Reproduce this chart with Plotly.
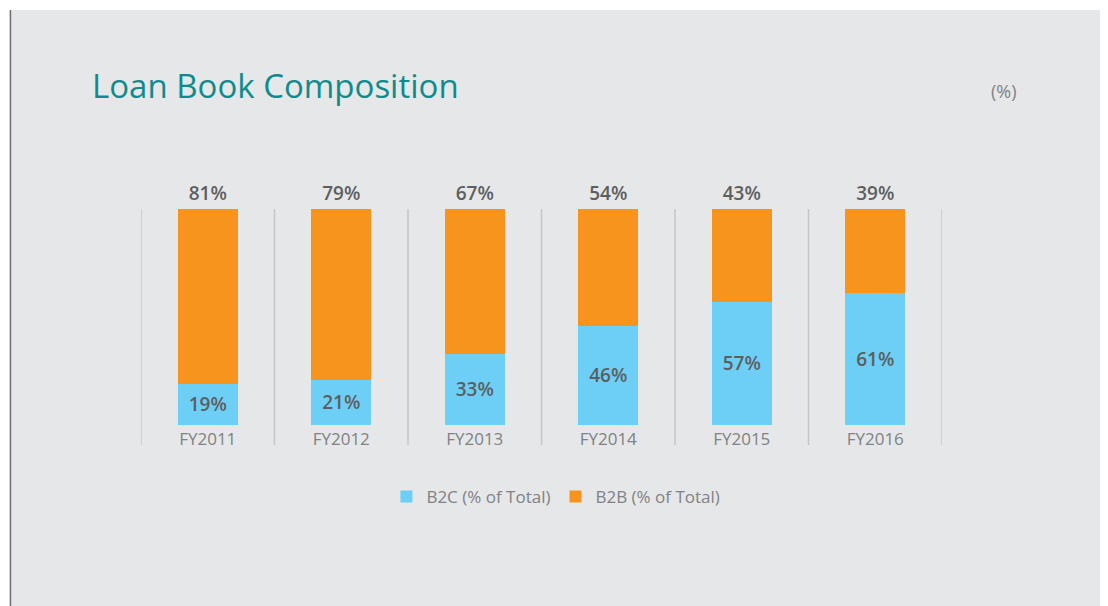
import plotly.graph_objects as go

years = ["FY2011", "FY2012", "FY2013", "FY2014", "FY2015", "FY2016"]
b2c = [19, 21, 33, 46, 57, 61]
b2b = [81, 79, 67, 54, 43, 39]

BG = "#e6e7e8"
BLUE = "#6dcff6"
ORANGE = "#f7941d"
DARK = "#5d5e60"
MID = "#808285"
FONT = "Open Sans"

# page body has an 8px margin, so the figure is shifted by that much
W, H = 1100, 598

fig = go.Figure()

fig.add_trace(go.Bar(
    x=years, y=b2c, name="B2C (% of Total)",
    marker=dict(color=BLUE, line=dict(width=0)),
    text=[f"{v}%" for v in b2c], textposition="inside",
    insidetextanchor="middle",
    textfont=dict(family=FONT, size=19, color=DARK, weight=600),
    width=0.45,
))
fig.add_trace(go.Bar(
    x=years, y=b2b, name="B2B (% of Total)",
    marker=dict(color=ORANGE, line=dict(width=0)),
    text=[f"{v}%" for v in b2b], textposition="outside",
    textfont=dict(family=FONT, size=19, color=DARK, weight=600),
    width=0.45, cliponaxis=False,
))

# vertical separators between categories
shapes = []
for i in range(len(years) + 1):
    shapes.append(dict(
        type="line", xref="x", yref="paper",
        x0=i - 0.5, x1=i - 0.5, y0=-0.0926, y1=1,
        line=dict(color="#c4c6c8", width=1.5),
    ))

# white frame strips and left border
shapes += [
    dict(type="rect", xref="paper", yref="paper", x0=-0.3, x1=1.3,
         y0=1.9213, y1=2.2, fillcolor="white", line=dict(width=0), layer="below"),
    dict(type="rect", xref="paper", yref="paper", x0=-0.3, x1=-0.1636,
         y0=-1, y1=2.2, fillcolor="white", line=dict(width=0), layer="below"),
    dict(type="line", xref="paper", yref="paper", x0=-0.1630, x1=-0.1630,
         y0=-1, y1=1.9213, line=dict(color="#6d6e71", width=1.5)),
]

fig.update_layout(
    width=W, height=H,
    margin=dict(l=133, r=166, t=201, b=181),
    paper_bgcolor=BG, plot_bgcolor="rgba(0,0,0,0)",
    barmode="stack",
    showlegend=True,
    legend=dict(
        orientation="h", traceorder="normal",
        x=0.518, xanchor="center", y=-0.333, yanchor="middle",
        font=dict(family=FONT, size=17, color=MID),
        bgcolor="rgba(0,0,0,0)", itemwidth=30,
    ),
    title=dict(
        text="Loan Book Composition", xref="container", x=84 / W,
        xanchor="left", yref="container", y=1 - 78 / H, yanchor="middle",
        font=dict(family=FONT, size=33, color="#0f8b8d"),
    ),
    shapes=shapes,
    annotations=[dict(
        text="(%)", xref="paper", yref="paper", x=1.0774, y=1.548,
        xanchor="center", yanchor="middle",
        showarrow=False, font=dict(family=FONT, size=18, color=MID),
    )],
)

fig.update_xaxes(
    range=[-0.5, 5.5], showgrid=False, zeroline=False, showline=False,
    ticks="", ticklabelstandoff=2,
    tickfont=dict(family=FONT, size=17, color=MID),
)
fig.update_yaxes(
    range=[0, 100], visible=False, showgrid=False, zeroline=False,
)

fig.write_html("out.html")
